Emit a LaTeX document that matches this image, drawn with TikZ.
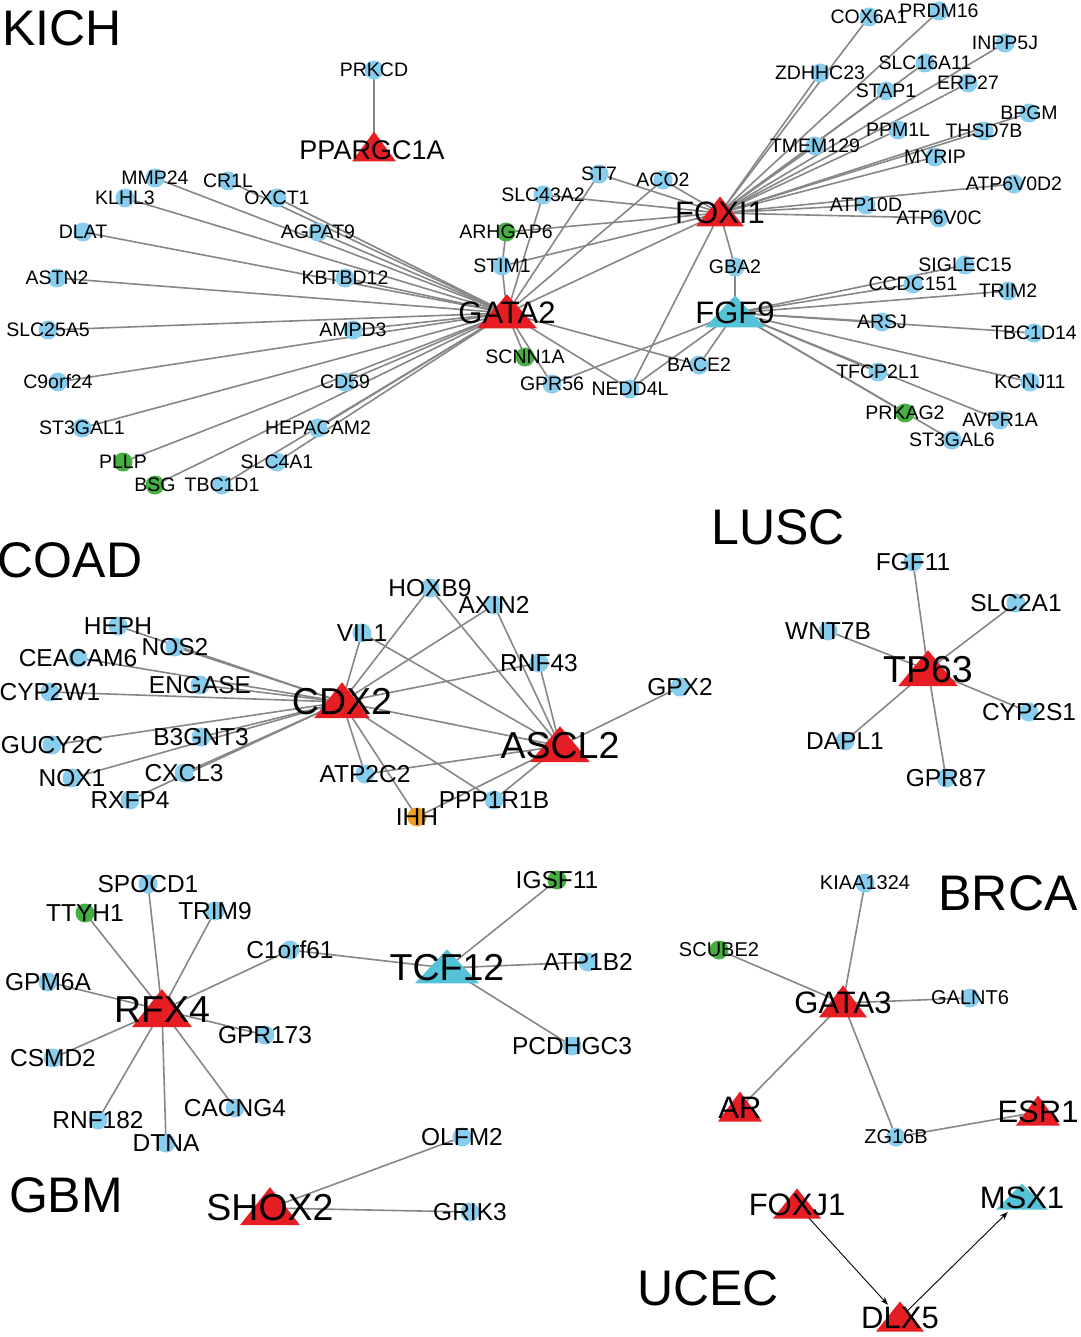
\documentclass[tikz,border=0pt]{standalone}
\usepackage{fontspec}
\setmainfont{Liberation Sans}
\usetikzlibrary{calc,arrows.meta}
\definecolor{cb}{RGB}{135,205,238}
\definecolor{cg}{RGB}{70,175,65}
\definecolor{cr}{RGB}{230,30,35}
\definecolor{cc}{RGB}{85,195,215}
\definecolor{co}{RGB}{240,160,30}
\definecolor{ce}{RGB}{135,135,135}
\newcommand\mytri[4]{\fill[#4] ($(#1)+(0,-#3*0.55)$) -- ($(#1)+(#2,#3*0.45)$) -- ($(#1)+(-#2,#3*0.45)$) -- cycle;}
\begin{document}
\begin{tikzpicture}[x=1pt,y=-1pt,
 edge/.style={draw=ce,line width=1.6pt},
 dot/.style={circle,inner sep=0,minimum size=19pt},
 s1/.style={font=\fontsize{19.5}{19}\selectfont,inner sep=0},
 s2/.style={font=\fontsize{24.5}{24}\selectfont,inner sep=0},
 s3/.style={font=\fontsize{20}{20}\selectfont,inner sep=0},
 hb/.style={font=\fontsize{31}{31}\selectfont,inner sep=0},
 hb2/.style={font=\fontsize{37.5}{37}\selectfont,inner sep=0},
 tt/.style={font=\fontsize{50}{50}\selectfont,inner sep=0}]
\useasboundingbox (0,0) rectangle (1080,1337);
\fill[white] (0,0) rectangle (1080,1337);
% coordinates
\foreach \n/\x/\y in {PRKCD/374/70,PPARGC1A/374/148,MMP24/155/178,CR1L/228/181,KLHL3/125/198,OXCT1/277/198,DLAT/83/232,AGPAT9/318/232,ASTN2/57/278,KBTBD12/345/278,SLC25A5/48/330,AMPD3/353/330,C9orf24/58/382,CD59/345/382,ST3GAL1/82/428,HEPACAM2/318/428,PLLP/123/462,SLC4A1/277/462,BSG/155/485,TBC1D1/222/485,GATA2/507/313,SLC43A2/543/195,ST7/599/174,ACO2/663/180,ARHGAP6/506/232,STIM1/502/266,SCNN1A/525/357,GPR56/552/384,NEDD4L/630/389,BACE2/699/365,FOXI1/720/213,GBA2/735/267,FGF9/735/313,COX6A1/869/17,PRDM16/939/11,ZDHHC23/820/73,SLC16A11/925/63,INPP5J/1005/43,STAP1/886/91,ERP27/968/83,BPGM/1029/113,TMEM129/815/146,PPM1L/898/130,THSD7B/984/131,MYRIP/935/157,ATP6V0D2/1014/184,ATP10D/866/205,ATP6V0C/939/218,SIGLEC15/965/265,CCDC151/913/284,TRIM2/1008/291,ARSJ/882/322,TBC1D14/1034/333,TFCP2L1/878/372,KCNJ11/1030/382,PRKAG2/905/413,AVPR1A/1000/420,ST3GAL6/952/440}
  \coordinate (\n) at (\x,\y);
\foreach \n/\x/\y in {HOXB9/430/588,AXIN2/494/605,VIL1/362/633,HEPH/118/626,NOS2/175/647,CEACAM6/78/658,RNF43/539/663,CYP2W1/50/692,ENGASE/200/685,CDX2/342/702,GPX2/680/687,GUCY2C/52/745,B3GNT3/201/737,ASCL2/560/746,NOX1/72/778,CXCL3/184/773,RXFP4/130/800,ATP2C2/365/774,IHH/417/817,PPP1R1B/494/800,
 TP63/928/670,FGF11/913/562,SLC2A1/1016/603,WNT7B/828/631,CYP2S1/1029/712,DAPL1/845/741,GPR87/946/778,
 SPOCD1/148/884,TTYH1/85/913,TRIM9/215/911,C1orf61/290/950,GPM6A/48/982,RFX4/162/1010,TCF12/447/968,IGSF11/557/880,ATP1B2/588/962,GPR173/265/1035,PCDHGC3/572/1046,CSMD2/53/1058,CACNG4/235/1108,RNF182/98/1120,DTNA/166/1143,SHOX2/270/1208,OLFM2/462/1137,GRIK3/470/1212,
 KIAA1324/865/883,SCUBE2/719/950,GATA3/843/1003,GALNT6/970/998,AR/740/1108,ZG16B/896/1137,ESR1/1038/1112,FOXJ1/797/1205,MSX1/1022/1198,DLX5/900/1318}
  \coordinate (\n) at (\x,\y);
% edges
\draw[edge] (PRKCD) -- (PPARGC1A);
\foreach \m in {MMP24,KLHL3,CR1L,OXCT1,DLAT,AGPAT9,ASTN2,KBTBD12,SLC25A5,AMPD3,C9orf24,CD59,ST3GAL1,HEPACAM2,PLLP,SLC4A1,BSG,TBC1D1,STIM1,SLC43A2,ST7,ACO2,FOXI1,SCNN1A,GPR56,NEDD4L,BACE2}
  \draw[edge] (GATA2) -- (\m);
\draw[edge] (ARHGAP6) -- (STIM1);
\foreach \m in {SLC43A2,ST7,ACO2,ARHGAP6,STIM1,NEDD4L,GBA2,COX6A1,PRDM16,ZDHHC23,SLC16A11,INPP5J,STAP1,ERP27,BPGM,TMEM129,PPM1L,THSD7B,MYRIP,ATP6V0D2,ATP10D,ATP6V0C}
  \draw[edge] (FOXI1) -- (\m);
\foreach \m in {GBA2,GPR56,NEDD4L,BACE2,SIGLEC15,CCDC151,TRIM2,ARSJ,TBC1D14,TFCP2L1,KCNJ11,PRKAG2,AVPR1A,ST3GAL6}
  \draw[edge] (FGF9) -- (\m);
\foreach \m in {HOXB9,AXIN2,VIL1,HEPH,NOS2,CEACAM6,RNF43,CYP2W1,ENGASE,GUCY2C,B3GNT3,NOX1,CXCL3,RXFP4,ATP2C2,IHH,PPP1R1B,ASCL2}
  \draw[edge] (CDX2) -- (\m);
\foreach \m in {HOXB9,AXIN2,VIL1,RNF43,GPX2,ATP2C2,PPP1R1B,IHH}
  \draw[edge] (ASCL2) -- (\m);
\foreach \m in {FGF11,SLC2A1,WNT7B,CYP2S1,DAPL1,GPR87}
  \draw[edge] (TP63) -- (\m);
\foreach \m in {SPOCD1,TTYH1,TRIM9,C1orf61,GPM6A,GPR173,CSMD2,CACNG4,RNF182,DTNA}
  \draw[edge] (RFX4) -- (\m);
\foreach \m in {C1orf61,IGSF11,ATP1B2,PCDHGC3}
  \draw[edge] (TCF12) -- (\m);
\draw[edge] (SHOX2) -- (OLFM2);
\draw[edge] (SHOX2) -- (GRIK3);
\foreach \m in {KIAA1324,SCUBE2,GALNT6,AR,ZG16B}
  \draw[edge] (GATA3) -- (\m);
\draw[edge] (ZG16B) -- (ESR1);
\draw[line width=0.9pt,-{Stealth[length=8pt]},shorten >=18pt] (FOXJ1) -- (DLX5);
\draw[line width=0.9pt,-{Stealth[length=8pt]},shorten >=20pt] (DLX5) -- (MSX1);
% dots
\foreach \n in {PRKCD,MMP24,CR1L,KLHL3,OXCT1,DLAT,AGPAT9,ASTN2,KBTBD12,SLC25A5,AMPD3,C9orf24,CD59,ST3GAL1,HEPACAM2,SLC4A1,TBC1D1,SLC43A2,ST7,ACO2,STIM1,GPR56,NEDD4L,BACE2,GBA2,COX6A1,PRDM16,ZDHHC23,SLC16A11,INPP5J,STAP1,ERP27,BPGM,TMEM129,PPM1L,THSD7B,MYRIP,ATP6V0D2,ATP10D,ATP6V0C,SIGLEC15,CCDC151,TRIM2,ARSJ,TBC1D14,TFCP2L1,KCNJ11,AVPR1A,ST3GAL6,
 HOXB9,AXIN2,VIL1,HEPH,NOS2,CEACAM6,RNF43,CYP2W1,ENGASE,GPX2,GUCY2C,B3GNT3,NOX1,CXCL3,RXFP4,ATP2C2,PPP1R1B,FGF11,SLC2A1,WNT7B,CYP2S1,DAPL1,GPR87,SPOCD1,TRIM9,C1orf61,GPM6A,ATP1B2,GPR173,PCDHGC3,CSMD2,CACNG4,RNF182,DTNA,OLFM2,GRIK3,KIAA1324,GALNT6,ZG16B}
  \node[dot,fill=cb] at (\n) {};
\foreach \n in {PLLP,BSG,ARHGAP6,SCNN1A,PRKAG2,TTYH1,IGSF11,SCUBE2}
  \node[dot,fill=cg] at (\n) {};
\node[dot,fill=co] at (IHH) {};
% triangles
\mytri{PPARGC1A}{22}{30}{cr}
\mytri{GATA2}{30}{34}{cr}
\mytri{FOXI1}{24}{30}{cr}
\mytri{FGF9}{30}{32}{cc}
\mytri{CDX2}{28}{36}{cr}
\mytri{ASCL2}{30}{36}{cr}
\mytri{TP63}{30}{36}{cr}
\mytri{RFX4}{30}{38}{cr}
\mytri{TCF12}{32}{34}{cc}
\mytri{SHOX2}{30}{38}{cr}
\mytri{GATA3}{24}{32}{cr}
\mytri{AR}{22}{30}{cr}
\mytri{ESR1}{22}{30}{cr}
\mytri{FOXJ1}{24}{30}{cr}
\mytri{MSX1}{26}{26}{cc}
\mytri{DLX5}{24}{30}{cr}
% labels
\foreach \n in {PRKCD,MMP24,CR1L,KLHL3,OXCT1,DLAT,AGPAT9,ASTN2,KBTBD12,SLC25A5,AMPD3,C9orf24,CD59,ST3GAL1,HEPACAM2,PLLP,SLC4A1,BSG,TBC1D1,SLC43A2,ST7,ACO2,ARHGAP6,STIM1,SCNN1A,GPR56,NEDD4L,BACE2,GBA2,COX6A1,PRDM16,ZDHHC23,SLC16A11,INPP5J,STAP1,ERP27,BPGM,TMEM129,PPM1L,THSD7B,MYRIP,ATP6V0D2,ATP10D,ATP6V0C,SIGLEC15,CCDC151,TRIM2,ARSJ,TBC1D14,TFCP2L1,KCNJ11,PRKAG2,AVPR1A,ST3GAL6}
  \node[s1] at (\n) {\n};
\foreach \n in {HOXB9,AXIN2,VIL1,HEPH,NOS2,CEACAM6,RNF43,CYP2W1,ENGASE,GPX2,GUCY2C,B3GNT3,NOX1,CXCL3,RXFP4,ATP2C2,IHH,PPP1R1B,FGF11,SLC2A1,WNT7B,CYP2S1,DAPL1,GPR87,SPOCD1,TTYH1,TRIM9,C1orf61,GPM6A,IGSF11,ATP1B2,GPR173,PCDHGC3,CSMD2,CACNG4,RNF182,DTNA,OLFM2,GRIK3}
  \node[s2] at (\n) {\n};
\foreach \n in {KIAA1324,SCUBE2,GALNT6,ZG16B}
  \node[s3] at (\n) {\n};
\node[font=\fontsize{27}{27}\selectfont,inner sep=0] at ($(PPARGC1A)+(-2,2)$) {PPARGC1A};
\foreach \n in {GATA2,FOXI1,FGF9,GATA3,AR,ESR1,FOXJ1,MSX1,DLX5}
  \node[hb] at (\n) {\n};
\foreach \n in {CDX2,ASCL2,TP63,RFX4,TCF12,SHOX2}
  \node[hb2] at (\n) {\n};
% titles
\node[tt] at (62,28) {KICH};
\node[tt] at (70,560) {COAD};
\node[tt] at (778,527) {LUSC};
\node[tt] at (1008,893) {BRCA};
\node[tt] at (66,1195) {GBM};
\node[tt] at (708,1288) {UCEC};
\end{tikzpicture}
\end{document}
